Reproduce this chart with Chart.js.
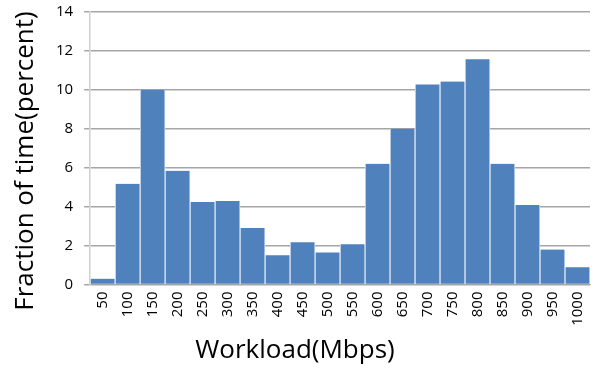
<!DOCTYPE html>
<html>
<head>
  <meta charset="utf-8" />
  <style>
    html, body { margin: 0; padding: 0; background: #fff; }
    #wrap { width: 596px; height: 368px; }
  </style>
</head>
<body>
  <div id="wrap"><canvas id="chart" width="596" height="368"></canvas></div>
  <script src="https://cdn.jsdelivr.net/npm/chart.js"></script>
  <script>
    const workloads = ['50','100','150','200','250','300','350','400','450','500',
                       '550','600','650','700','750','800','850','900','950','1000'];
    const fractions = [0.3, 5.17, 10.0, 5.84, 4.24, 4.29, 2.9, 1.5, 2.17, 1.65,
                       2.07, 6.2, 8.0, 10.28, 10.43, 11.57, 6.2, 4.08, 1.8, 0.88];
    const yMax = 14;
    const yStep = 2;
    const yTitle = 'Fraction of time(percent)';
    const xTitle = 'Workload(Mbps)';

    const font = "'Open Sans', 'Liberation Sans', sans-serif";

    // the original y title sits a bit lower than the axis centre, so draw it by hand
    const yTitlePlugin = {
      id: 'yTitle',
      afterDraw(chart) {
        const ctx = chart.ctx;
        ctx.save();
        ctx.translate(26, 161);
        ctx.rotate(-Math.PI / 2);
        ctx.font = '26px ' + font;
        ctx.textAlign = 'center';
        ctx.textBaseline = 'middle';
        ctx.fillStyle = '#000';
        ctx.fillText(yTitle, 0, 0);
        ctx.restore();
      }
    };

    new Chart(document.getElementById('chart'), {
      type: 'bar',
      data: {
        labels: workloads,
        datasets: [{
          label: 'Fraction of time',
          data: fractions,
          backgroundColor: '#4f81bd',
          borderColor: '#dfe8f3',
          borderWidth: { left: 1, right: 1, top: 0, bottom: 0 },
          barPercentage: 1,
          categoryPercentage: 1
        }]
      },
      options: {
        responsive: false,
        animation: false,
        layout: { padding: { left: 0, right: 6, top: 0, bottom: 2 } },
        plugins: {
          legend: { display: false },
          tooltip: { enabled: false },
          // x title centred on the whole canvas, like the original
          title: {
            display: true, position: 'bottom', text: xTitle, color: '#000',
            font: { family: font, size: 26, weight: 'normal' }, padding: { top: 2, bottom: 0 }
          }
        },
        scales: {
          x: {
            grid: { display: false, drawTicks: false },
            border: { display: true, color: '#a6a6a6', width: 1 },
            ticks: {
              minRotation: 90, maxRotation: 90, padding: 7,
              color: '#000', font: { family: font, size: 15 }
            },
            afterFit: s => { s.paddingRight = 0; }
          },
          y: {
            min: 0, max: yMax,
            grid: { color: '#a6a6a6', lineWidth: 1.5, drawTicks: true, tickLength: 6 },
            border: { display: true, color: '#d0d0d0', width: 1.5 },
            ticks: {
              stepSize: yStep, padding: 11, color: '#000',
              font: { family: font, size: 15 }
            },
            // room for the hand-drawn title, and the top label's overhang
            afterFit: s => { s.paddingTop = 12; s.width += 45; }
          }
        }
      },
      plugins: [yTitlePlugin]
    });
  </script>
</body>
</html>
